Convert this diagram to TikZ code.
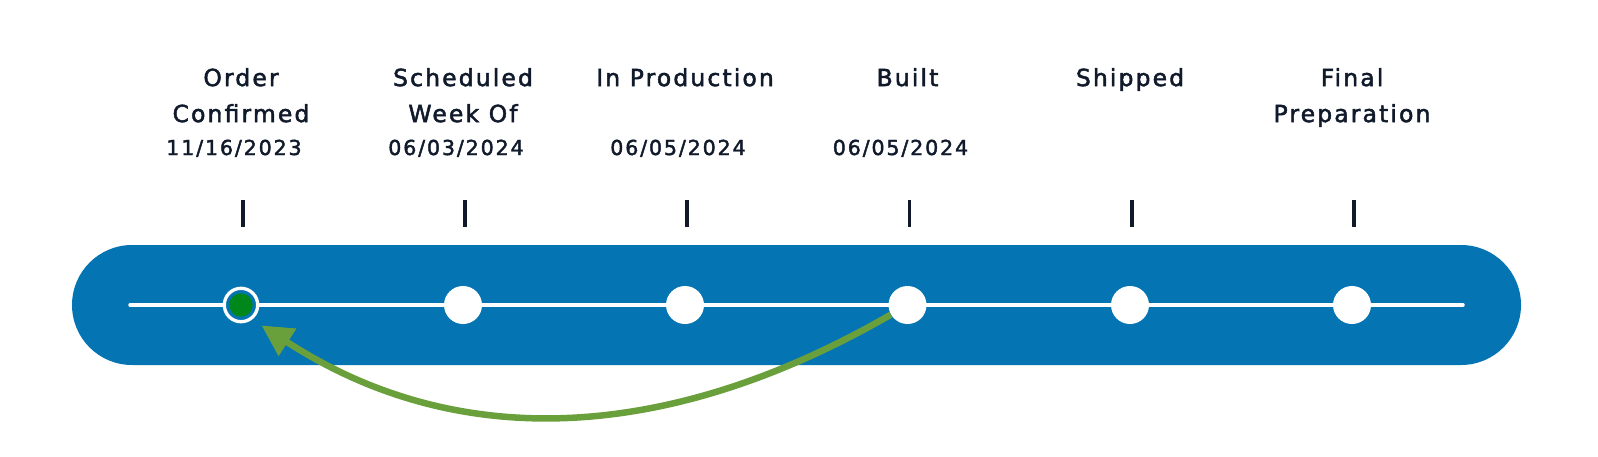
\documentclass[tikz,border=0pt]{standalone}
\usepackage{fontspec}
\setmainfont{DejaVu Sans}[LetterSpace=9,FakeBold=2]
\usepackage{tikz}
\usetikzlibrary{arrows.meta,positioning}
\definecolor{trackblue}{HTML}{0474B2}
\definecolor{ink}{HTML}{101A2B}
\definecolor{leafgreen}{HTML}{6AA03C}
\definecolor{donegreen}{HTML}{00871C}
\tikzset{
  bar/.style={fill=trackblue,rounded corners=60pt,minimum width=1449pt,minimum height=120pt,inner sep=0pt},
  stop/.style={circle,fill=white,minimum size=38pt,inner sep=0pt},
  donestop/.style={circle,draw=white,line width=3.3pt,fill=trackblue,minimum size=33.4pt,inner sep=0pt},
  donedot/.style={circle,fill=donegreen,minimum size=23.4pt,inner sep=0pt},
  tickmark/.style={fill=ink,minimum width=3.8pt,minimum height=27pt,inner sep=0pt},
  track/.style={draw=white,line width=3.5pt,line cap=round},
  steptitle/.style={anchor=north,inner sep=0pt,align=center,text=ink,font=\fontsize{23.5}{36}\selectfont},
  stepdate/.style={anchor=base,inner sep=0pt,text=ink,font=\fontsize{20.6}{24}\selectfont},
  backarr/.style={-{Triangle[length=31pt,width=31pt]},line width=6.5pt,draw=leafgreen}
}
\begin{document}
\begin{tikzpicture}[x=1pt,y=-1pt]
\useasboundingbox (0,0) rectangle (1598,456);
\node[bar] (B) at (796.5,305) {};
\coordinate (lineL) at (130,305); \coordinate (lineR) at (1463,305);
\draw[track] (lineL)--(lineR);
\node[donestop] (s1) at (241,305) {}; \node[donedot] (d1) at (s1) {};
\node[stop] (s2) at (463,305) {}; \node[stop] (s3) at (685,305) {};
\node[stop] (s4) at (907.5,305) {}; \node[stop] (s5) at (1130,305) {};
\node[stop] (s6) at (1352,305) {};
\node[tickmark] (k1) at (243,213) {}; \node[tickmark] (k2) at (465,213) {};
\node[tickmark] (k3) at (687,213) {}; \node[tickmark] (k4) at (909.5,213) {};
\node[tickmark] (k5) at (1132,213) {}; \node[tickmark] (k6) at (1354,213) {};
\node[steptitle] (T1) at (241,68) {Order\\Confirmed};
\node[steptitle] (T2) at (463,68) {Scheduled\\Week Of};
\node[steptitle] (T3) at (685,68) {In Production};
\node[steptitle] (T4) at (907.5,68) {Built};
\node[steptitle] (T5) at (1130,68) {Shipped};
\node[steptitle] (T6) at (1352,68) {Final\\Preparation};
\node[stepdate] (D1) at (234,155) {11/16/2023};
\node[stepdate] (D2) at (456,155) {06/03/2024};
\node[stepdate] (D3) at (678,155) {06/05/2024};
\node[stepdate] (D4) at (900.5,155) {06/05/2024};
\draw[backarr,shorten >=11pt] (s4) to[out=210,in=-33] (s1.-52);
\end{tikzpicture}
\end{document}
